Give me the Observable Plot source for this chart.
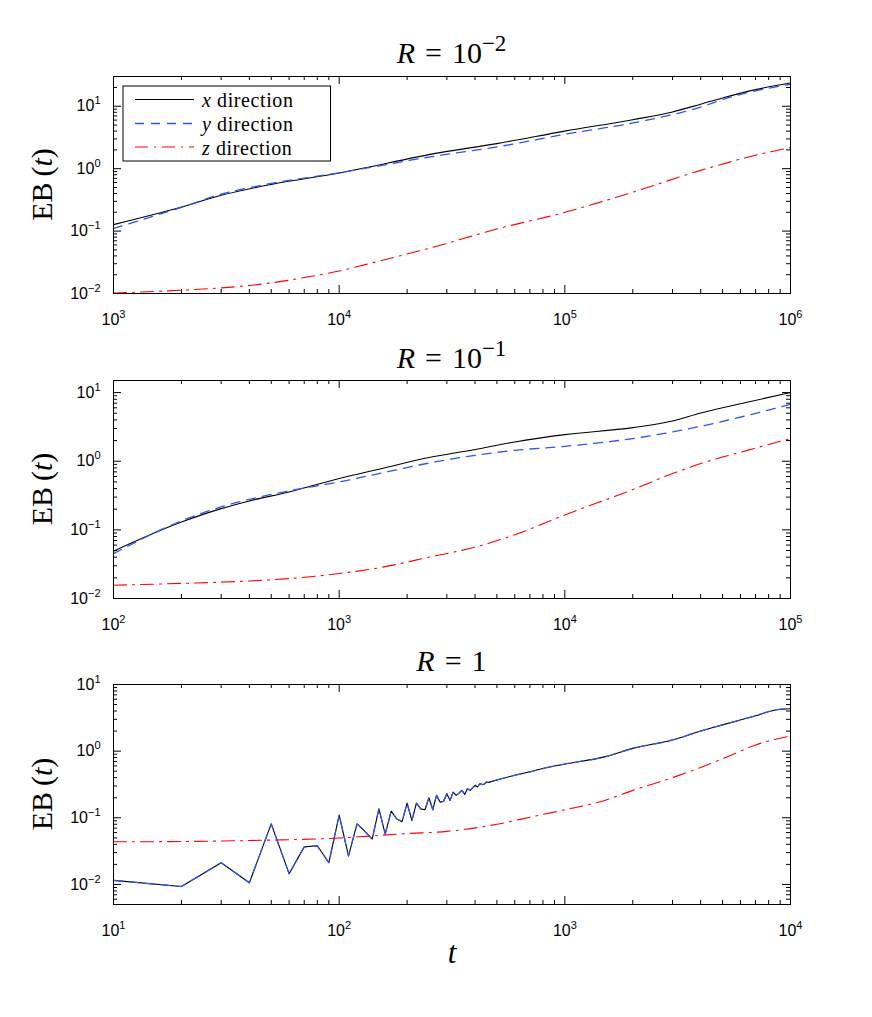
<!DOCTYPE html>
<html><head><meta charset="utf-8">
<script src="https://cdn.jsdelivr.net/npm/d3@7"></script>
<script src="https://cdn.jsdelivr.net/npm/@observablehq/plot@0.6"></script>
<style>
body{margin:0;background:#fff;}
#chart{position:relative;width:872px;height:1017px;background:#fff;overflow:hidden;}
#chart svg{position:absolute;left:0;}
</style></head><body><div id="chart"></div>
<script>
// ---------- Data ----------
// Panel 1: R = 10^-2
const t1 = [1e3, 2e3, 3e3, 5e3, 1e4, 2.8e4, 5e4, 1e5, 2e5, 3e5, 4e5, 5e5, 7e5, 1e6];
const x1 = [0.127, 0.243, 0.375, 0.56, 0.853, 1.81, 2.52, 4.0, 6.1, 8.1, 10.8, 13.6, 18.5, 23.6];
const y1 = [0.11, 0.24, 0.39, 0.58, 0.86, 1.64, 2.23, 3.56, 5.4, 7.36, 9.7, 12.8, 17.6, 22.5];
const t1z = [1e3, 2e3, 3e3, 5e3, 7e3, 1e4, 1.5e4, 2.5e4, 5e4, 1e5, 2e5, 4e5, 7e5, 1e6];
const z1 = [0.0102, 0.0113, 0.0123, 0.0148, 0.018, 0.023, 0.033, 0.053, 0.108, 0.20, 0.42, 0.94, 1.64, 2.18];

// Panel 2: R = 10^-1
const t2 = [100, 200, 300, 400, 600, 1000, 1500, 2500, 4000, 6000, 1e4, 2e4, 3e4, 4e4, 6.5e4, 1e5];
const x2 = [0.049, 0.13, 0.204, 0.264, 0.357, 0.56, 0.764, 1.13, 1.48, 1.91, 2.44, 3.09, 3.86, 5.05, 7.3, 10];
const y2 = [0.045, 0.135, 0.216, 0.279, 0.37, 0.50, 0.66, 0.94, 1.22, 1.44, 1.65, 2.14, 2.67, 3.23, 4.68, 6.76];
const z2 = [0.0156, 0.0166, 0.0173, 0.018, 0.0195, 0.0231, 0.028, 0.040, 0.056, 0.085, 0.165, 0.386, 0.66, 0.925, 1.45, 2.14];

// Panel 3: R = 1 (x and y directions coincide)
const t3 = [10,20,30,40,50,60,70,80,90,100,110,120,130,140,150,160,170,180,190,200,210,220,230,240,250,260,270,280,290,300,310,320,330,340,350,360,370,380,390,400,410,420,430,440,450,460,480,500,600,700,800,1000,1500,2000,3000,4000,5000,7000,8700,10000];
const xy3 = [0.0115,0.0093,0.0212,0.0106,0.081,0.0145,0.0366,0.038,0.0212,0.110,0.0268,0.081,0.0625,0.048,0.136,0.057,0.126,0.096,0.0875,0.166,0.091,0.166,0.136,0.132,0.20,0.132,0.217,0.172,0.176,0.23,0.182,0.243,0.217,0.235,0.258,0.224,0.273,0.258,0.28,0.307,0.29,0.326,0.315,0.32,0.345,0.34,0.355,0.37,0.434,0.49,0.55,0.64,0.82,1.10,1.47,2.0,2.48,3.39,4.19,4.33];
const t3z = [10, 20, 50, 100, 200, 300, 500, 700, 1000, 1500, 2000, 3000, 4000, 5500, 7000, 10000];
const z3 = [0.0436, 0.0441, 0.0463, 0.0497, 0.058, 0.0625, 0.08, 0.102, 0.132, 0.182, 0.258, 0.40, 0.57, 0.88, 1.24, 1.69];

const seriesNames = ["x", "y", "z"];
const titles = [["R", "\u2004=\u200410", "\u22122"], ["R", "\u2004=\u200410", "\u22121"], ["R", "\u2004=\u20041", ""]];

// ---------- Styles ----------
const W = 872;
const serif = "'Liberation Serif', 'Times New Roman', serif";
const sans = "'Liberation Sans', Arial, Helvetica, sans-serif";
const styleX = {stroke: "#000000", strokeWidth: 1.1};
const styleY = {stroke: "#2f55f5", strokeWidth: 1.3, strokeDasharray: "9,7"};
const styleZ = {stroke: "#ff0000", strokeWidth: 1.1, strokeDasharray: "13,6,2,6"};

const zip = (t, v) => t.map((d, i) => ({t: d, v: v[i]}));

function decades([lo, hi]) {
  const out = [];
  for (let e = Math.ceil(Math.log10(lo) - 1e-9); e <= Math.floor(Math.log10(hi) + 1e-9); e++) out.push(10 ** e);
  return out;
}
function minors([lo, hi]) {
  const out = [];
  for (let e = Math.floor(Math.log10(lo)) - 1; e <= Math.ceil(Math.log10(hi)); e++)
    for (let m = 2; m <= 9; m++) { const v = +(m * 10 ** e).toPrecision(6); if (v >= lo * 0.999 && v <= hi * 1.001) out.push(v); }
  return out;
}
const fmt = d => "10^" + Math.round(Math.log10(d));

function superscriptLabels(svg) {
  d3.select(svg).selectAll('g[aria-label$="tick label"] text').each(function () {
    const s = this.textContent;
    const m = s.match(/^10\^(-?\d+)$/);
    if (!m) return;
    const el = d3.select(this);
    el.text(null);
    el.append("tspan").text("10");
    el.append("tspan").attr("dy", "-7").style("font-size", "11px").text(m[1].replace("-", "\u2212"));
  });
}

function serifText(sel, size) {
  return sel.style("font-family", serif).style("font-size", size).attr("fill", "black");
}

function panel(cfg) {
  const {top, height, mt, mb, xdom, ydom, lines, title, titleY, showXLabel, legend, split} = cfg;
  const ml = 113, mr = 82;
  const fh = height - mt - mb, fw = W - ml - mr;
  const xMaj = decades(xdom), xMin = minors(xdom), yMaj = decades(ydom), yMin = minors(ydom);
  const LM = 8, Lm = 4;
  const tk = {stroke: "black", strokeWidth: 1};
  // for the oscillating panel: straight segments in the noisy part, smooth in the tail
  const pieces = (data) => split
    ? [[data.filter(d => d.t <= split), "linear"], [data.filter(d => d.t >= split), "monotone-x"]]
    : [[data, "monotone-x"]];
  const lineMarks = [];
  for (const [d, c] of pieces(lines.x)) lineMarks.push(Plot.line(d, {x: "t", y: "v", curve: c, ...styleX}));
  for (const [d, c] of pieces(lines.y)) lineMarks.push(Plot.line(d, {x: "t", y: "v", curve: c, ...styleY}));
  lineMarks.push(Plot.line(lines.z, {x: "t", y: "v", curve: "monotone-x", ...styleZ}));
  const svg = Plot.plot({
    width: W, height, marginTop: mt, marginBottom: mb, marginLeft: ml, marginRight: mr,
    style: {fontFamily: sans, fontSize: "16px", background: "transparent", color: "black", overflow: "visible"},
    x: {type: "log", domain: xdom},
    y: {type: "log", domain: ydom},
    marks: [
      Plot.tickX(xMaj, {x: d => d, insetTop: fh - LM, ...tk}),
      Plot.tickX(xMaj, {x: d => d, insetBottom: fh - LM, ...tk}),
      Plot.tickX(xMin, {x: d => d, insetTop: fh - Lm, ...tk}),
      Plot.tickX(xMin, {x: d => d, insetBottom: fh - Lm, ...tk}),
      Plot.tickY(yMaj, {y: d => d, insetRight: fw - LM, ...tk}),
      Plot.tickY(yMaj, {y: d => d, insetLeft: fw - LM, ...tk}),
      Plot.tickY(yMin, {y: d => d, insetRight: fw - Lm, ...tk}),
      Plot.tickY(yMin, {y: d => d, insetLeft: fw - Lm, ...tk}),
      ...lineMarks,
      Plot.frame({stroke: "black", strokeWidth: 1}),
      Plot.axisX(xMaj, {tickSize: 0, tickPadding: 20, tickFormat: fmt, label: null, fontSize: 16}),
      Plot.axisY(yMaj, {tickSize: 0, tickPadding: 13, tickFormat: fmt, label: null, fontSize: 16})
    ]
  });
  svg.style.top = top + "px";
  superscriptLabels(svg);
  const s = d3.select(svg);
  // title
  const tt = serifText(s.append("text"), "30px").attr("x", (ml + W - mr) / 2).attr("y", titleY)
    .style("text-anchor", "middle");
  tt.append("tspan").style("font-style", "italic").text(title[0]);
  tt.append("tspan").text(title[1]);
  if (title[2]) tt.append("tspan").attr("dy", "-12").style("font-size", "23px").text(title[2]);
  // y label
  const yl = serifText(s.append("text"), "30px").attr("transform", `translate(52,${mt + fh / 2}) rotate(-90)`)
    .style("text-anchor", "middle");
  yl.append("tspan").text("EB\u2009(");
  yl.append("tspan").style("font-style", "italic").text("t");
  yl.append("tspan").text(")");
  if (showXLabel) {
    serifText(s.append("text"), "31px").attr("x", 452).attr("y", mt + fh + 59).style("text-anchor", "middle")
      .style("font-style", "italic").text("t");
  }
  if (legend) {
    const g = s.append("g");
    g.append("rect").attr("x", 123).attr("y", 86).attr("width", 207.5).attr("height", 75)
      .attr("fill", "white").attr("stroke", "black").attr("stroke-width", 1);
    const rows = [[styleX, 99.5, 107], [styleY, 123.5, 130.5], [styleZ, 147, 154.5]];
    rows.forEach(([st, ly, by], i) => {
      g.append("line").attr("x1", 135).attr("x2", 194).attr("y1", ly).attr("y2", ly)
        .attr("stroke", st.stroke).attr("stroke-width", st.strokeWidth).attr("stroke-dasharray", st.strokeDasharray || null);
      const tx = serifText(g.append("text"), "20px").attr("x", 202).attr("y", by)
        .style("text-anchor", "start").style("letter-spacing", "0.6px");
      tx.append("tspan").style("font-style", "italic").text(seriesNames[i]);
      tx.append("tspan").text(" direction");
    });
  }
  document.getElementById("chart").appendChild(svg);
}

panel({top: 0, height: 340, mt: 76, mb: 47, xdom: [1e3, 1e6], ydom: [0.01, 30],
  lines: {x: zip(t1, x1), y: zip(t1, y1), z: zip(t1z, z1)}, title: titles[0], titleY: 63, legend: true});
panel({top: 340, height: 310, mt: 40, mb: 52, xdom: [1e2, 1e5], ydom: [0.01, 15],
  lines: {x: zip(t2, x2), y: zip(t2, y2), z: zip(t2, z2)}, title: titles[1], titleY: 28});
panel({top: 650, height: 367, mt: 34, mb: 113, xdom: [10, 1e4], ydom: [0.005, 10], split: 500,
  lines: {x: zip(t3, xy3), y: zip(t3, xy3), z: zip(t3z, z3)}, title: titles[2], titleY: 21, showXLabel: true});
</script>
</body></html>
